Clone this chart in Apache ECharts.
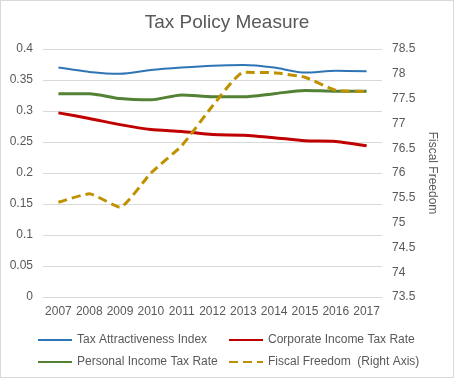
<!DOCTYPE html>
<html>
<head>
<meta charset="utf-8">
<script src="https://cdn.jsdelivr.net/npm/echarts@6/dist/echarts.min.js"></script>
<style>
html,body{margin:0;padding:0;background:#fff;}
#chart{width:454px;height:378px;box-sizing:border-box;border:1px solid #d9d9d9;}
</style>
</head>
<body>
<div id="chart"></div>
<script>
const years = ['2007','2008','2009','2010','2011','2012','2013','2014','2015','2016','2017'];
const taxAttractiveness = [0.370, 0.363, 0.360, 0.366, 0.370, 0.373, 0.374, 0.370, 0.362, 0.365, 0.364];
const corporateRate = [0.297, 0.288, 0.278, 0.270, 0.267, 0.262, 0.261, 0.257, 0.252, 0.251, 0.244];
const personalRate = [0.328, 0.328, 0.320, 0.318, 0.326, 0.323, 0.323, 0.328, 0.333, 0.332, 0.332];
const fiscalFreedom = [75.41, 75.58, 75.31, 76.0, 76.55, 77.35, 78.03, 78.02, 77.93, 77.67, 77.64];
const seriesNames = ['Tax Attractiveness Index','Corporate Income Tax Rate','Personal Income Tax Rate','Fiscal Freedom  (Right Axis)'];

const font = 'Liberation Sans, Arial, sans-serif';
const txt = '#595959';
const chart = echarts.init(document.getElementById('chart'), null, {renderer:'canvas'});
chart.setOption({
  animation:false,
  title:{text:'Tax Policy Measure', left:'center', top:7,
    textStyle:{color:txt, fontSize:19, fontWeight:'normal', fontFamily:font}},
  legend:{
    data:seriesNames, left:31, top:325, width:400, orient:'horizontal',
    itemWidth:34, itemHeight:12, itemGap:4, selectedMode:false,
    itemStyle:{opacity:0},
    textStyle:{color:txt, fontSize:12, fontFamily:font, width:147, lineHeight:18, overflow:'none'}
  },
  grid:{left:42, right:71, top:48, bottom:80},
  xAxis:{type:'category', data:years, boundaryGap:true,
    axisLine:{lineStyle:{color:'#d9d9d9'}}, axisTick:{show:false},
    axisLabel:{color:txt, fontSize:12, fontFamily:font, margin:9, interval:0}},
  yAxis:[
    {type:'value', min:0, max:0.4, interval:0.05,
      axisLine:{show:false}, axisTick:{show:false},
      splitLine:{lineStyle:{color:'#d9d9d9'}},
      axisLabel:{color:txt, fontSize:12, fontFamily:font, margin:10}},
    {type:'value', min:73.5, max:78.5, interval:0.5, position:'right',
      name:'Fiscal Freedom', nameLocation:'middle', nameGap:40, nameRotate:-90,
      nameTextStyle:{color:txt, fontSize:12, fontFamily:font},
      axisLine:{show:false}, axisTick:{show:false}, splitLine:{show:false},
      axisLabel:{color:txt, fontSize:12, fontFamily:font, margin:10}}
  ],
  series:[
    {name:seriesNames[0], type:'line', data:taxAttractiveness, yAxisIndex:0, symbol:'none', smooth:0.25,
      lineStyle:{color:'#2E75B6', width:2}, itemStyle:{color:'#2E75B6'}},
    {name:seriesNames[1], type:'line', data:corporateRate, yAxisIndex:0, symbol:'none', smooth:0.25,
      lineStyle:{color:'#C00000', width:3}, itemStyle:{color:'#C00000'}},
    {name:seriesNames[2], type:'line', data:personalRate, yAxisIndex:0, symbol:'none', smooth:0.25,
      lineStyle:{color:'#548235', width:3}, itemStyle:{color:'#548235'}},
    {name:seriesNames[3], type:'line', data:fiscalFreedom, yAxisIndex:1, symbol:'none', smooth:0.15,
      lineStyle:{color:'#BF9000', width:3, type:[9,5]}, itemStyle:{color:'#BF9000'}}
  ]
});
</script>
</body>
</html>
